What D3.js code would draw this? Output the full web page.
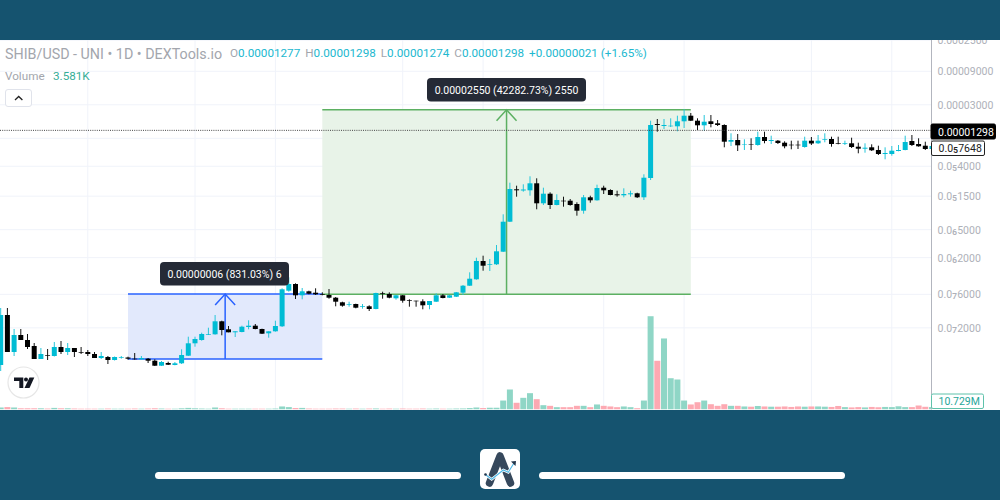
<!DOCTYPE html>
<html lang='en'>
<head>
<meta charset='utf-8'>
<script src='https://d3js.org/d3.v7.min.js'></script>
<style>
	body { margin: 0; background: #fff; }
	svg { display: block; font-family: Roboto, "Open Sans", sans-serif; }
</style>
</head>
<body>
<svg id='chart' width='1000' height='500'></svg>
<script>
// candle values are log price steps above 1e-8 (one step = e^(1/30.5))
var opens = [-16,34,-3,14,9,3,-10,-6,-7,2,-3,1,-3,-3,-5,-9,-8,-11,-8.7,-8.5,-9.7,-10.3,-9.7,-11.7,-16.7,-14,-16,-14.3,-6.7,5.7,9,14.3,14.7,27.7,19.7,16.7,17,22,23.3,20,15.7,17.7,22.7,58.3,65,53.7,57.7,56.3,54.7,54,51.3,46.7,44.3,45,42.3,42.7,40,55.7,55,50.7,53.7,49,48.3,47.7,44,47.3,53.7,51.3,52.3,56.3,63.3,69.7,88,84,84.7,97.3,127.3,159.7,158.5,158.7,165.7,145.7,155.3,144,148.3,148.3,145,138.3,151.7,148.7,161.3,159,154.7,153.7,154.7,155.7,151.7,171,225,223,222.7,222.7,227.7,233.3,228.3,223.7,227.7,225.7,224,207.3,209,204,204.5,204,212,208,208.3,206.3,204.3,204.3,202,208.3,205.7,209,210,205.7,205,205.7,202.3,200.3,201.7,199,195,195,198,199,208,205,203.3,200];
var closes = [34,-3,14,9,2,-10,-5,-6.7,2,-3,1,-3,-3.7,-5,-9,-7,-11,-8,-8,-9.7,-10.3,-9,-11.7,-16.7,-13,-15.7,-14.3,-6,5.7,10,15,15,27.7,19,16.7,17.7,22.3,23.3,20,15.3,17.7,23,59.7,65,53.7,57.7,55.3,54.7,54,51.3,47.3,43.3,45,41.3,43,40,56,55,51.3,53.7,48.3,48.3,47.7,43.7,48,53.7,51,53.7,56.7,63.3,70.3,88,83.3,84.7,97.7,127.3,160,158.7,159.5,165.7,145.7,155.3,144,149,147.7,144,138.3,151.7,148.7,161,158.7,154,153.7,155,155.7,151.7,171.3,224,224,224,223.3,227.7,233.3,228.3,223.7,227.3,225,224,207.3,209,203.7,204.5,204,212,208,209,206,202.7,203.7,203.7,208.3,205.5,208.3,209.7,205,205,205.7,202,200.3,201.3,198.7,195,196,198.3,199,207,204,202.7,200,203];
var highs = [41,41,20,20,15,6,1,0,7,8,6,1,2,-1,-3,-3,-7,-7.5,-7,-7.7,-4,-7,-9,-10.3,-12,-12.7,-13,-0.3,12.3,12.3,16.3,21.3,34,28.3,23,17.7,23.3,28.7,25,20.3,17.7,28.3,60.7,71.7,65.7,61,58.3,60.7,56.7,60,52,47.3,47.3,45.3,45,43.7,56.3,57.3,56.7,54,54,49.7,48.3,49.7,48,55.7,55,54,57,64,76.7,91.3,93.3,90,104,134.7,166.3,163.3,164.7,172.7,170.7,161.3,156.7,154.7,152.3,150,146.7,154,153.3,164.3,163.3,159.7,158.3,160.7,158.3,156.3,174.7,228.3,230,230,230.7,233.3,239.7,236,230.7,234,234,229,224.7,215.7,215,209.7,210.7,217.3,217.3,213.3,209,207.7,208.3,208.3,212.3,212,214,215.7,212.3,212.3,208.3,211.3,206.3,205.7,204.7,203.3,201.7,203,204,213.3,214,210.7,207.3,205];
var lows = [-22,-3,-7,9,0,-10,-10,-11,-7.5,-5,-6,-8,-5,-7,-9,-10,-15,-11.5,-9.7,-10.7,-10.7,-10.7,-14,-17,-17,-16,-16.3,-15,-7,2.3,8.3,14,14.3,13.7,16.7,12,16.7,19.7,19.7,15,11.3,17.3,22,57.3,50,49.7,54.7,54,53.7,50.3,42.7,42.3,42.3,40.7,40.3,38,39.7,50.3,50.7,49.3,46.3,42.3,42.3,39.7,39.7,47,50.7,51,52,54,63,69.3,78.3,78,84,97,127,152.3,157.3,153.3,139.7,144,140,143.7,142.3,143.3,133.3,135.3,146.3,148.3,155,153.7,152.3,151.7,152.3,151,149,169,217.3,220,222,217.7,221,228,219,218.3,221.7,223,201.7,203,198,199,199,203.3,205.7,205,205,200.7,199.7,200,201.3,204,205,206.7,202.3,204.7,204,201,195.7,196.3,198,194,189.7,193.3,197.7,198.7,203,202.3,199,199];
// volume in millions
var volumes = [2.5,3,2.5,1.5,1.5,1.5,1.5,1.2,2,1.5,1.5,1.2,1,1,1,1,1.2,1,1,1,1.2,1,1.2,1.5,1.2,1,1,1.5,2,1.5,1.2,1,2.5,1.5,1,1,1,1,1,1,1,1.2,3.8,3,1.8,2,1.2,1,1,1,1.2,1.2,1,1.2,1,1.2,1.3,1,1.2,1,1.2,1,1,1.2,1,1.2,1,1,1.2,1.3,1.8,2.5,1.8,2.2,2.2,11.2,25,8.4,14.6,20.4,12.9,5.4,4.6,2.9,2.9,2.9,4.6,4.6,2.9,6.3,4.6,3.8,2.9,3.8,2.9,1.6,11.2,116.6,60.9,88.8,39.1,37.5,11.2,6.3,9.1,11.2,6.6,4.6,6.6,4.6,4.6,3.8,3.5,4.4,3.8,3.5,3.5,3.8,3.2,3.8,3.5,3.8,3.8,3.5,3.2,4.4,3,2.6,3,2.6,3.2,2.8,3.2,3,4,3,3,5,3.4,3,2.6,2.4];

// the 0.00001000 tick sits behind the price badges, only its grid line shows
var tickValues = [2.5e-4, 9e-5, 3e-5, 1e-5, 4e-6, 1.5e-6, 5e-7, 2e-7, 6e-8, 2e-8];
var tickLabels = ['0.0002500', '0.00009000', '0.00003000', '', '0.0₅4000', '0.0₅1500', '0.0₆5000', '0.0₆2000', '0.0₇6000', '0.0₇2000'];
var gridIndex = [13, 29, 41, 60, 72, 90, 102, 121, 133];

var lastPrice = 1.298e-5;
var blueRange = { from: 19, to: 48, top: 6.07e-8, bottom: 7.2e-9 };
var greenRange = { from: 48, to: 103, top: 2.55e-5, bottom: 6.03e-8 };

var svg = d3.select('#chart');
var plotRight = 931.5, plotTop = 40, plotBottom = 409.5;

function toPrice(s) { return 1e-8 * Math.exp(s / 30.5); }

var x = d3.scaleLinear().domain([0, 139]).range([0.7, 932]);
var y = d3.scaleLog().domain([toPrice(-60), toPrice(309)]).range([409, 40]);
var yVol = d3.scaleLinear().domain([0, 125]).range([plotBottom, plotBottom - 100]);

svg.append('defs').append('clipPath').attr('id', 'plot')
	.append('rect').attr('x', 0).attr('y', plotTop).attr('width', plotRight).attr('height', plotBottom - plotTop);

// grid
var grid = svg.append('g').attr('stroke', '#f0f3fa').attr('stroke-width', 1);
grid.selectAll('.v').data(gridIndex).enter().append('line')
	.attr('x1', d => x(d)).attr('x2', d => x(d)).attr('y1', plotTop).attr('y2', plotBottom);
grid.selectAll('.h').data(tickValues).enter().append('line')
	.attr('x1', 0).attr('x2', plotRight).attr('y1', d => y(d)).attr('y2', d => y(d));

// the two price range tools
function priceRange(r, fill, stroke) {
	var g = svg.append('g');
	var mid = x((r.from + r.to) / 2);
	g.append('rect').attr('x', x(r.from)).attr('y', y(r.top))
		.attr('width', x(r.to) - x(r.from)).attr('height', y(r.bottom) - y(r.top)).attr('fill', fill);
	[r.top, r.bottom].forEach(function(p) {
		g.append('line').attr('x1', x(r.from)).attr('x2', x(r.to)).attr('y1', y(p)).attr('y2', y(p))
			.attr('stroke', stroke).attr('stroke-width', 1.5);
	});
	g.append('line').attr('x1', mid).attr('x2', mid).attr('y1', y(r.bottom)).attr('y2', y(r.top))
		.attr('stroke', stroke).attr('stroke-width', 1.5);
	g.append('path').attr('d', d3.line()([[mid - 10, y(r.top) + 11], [mid, y(r.top)], [mid + 10, y(r.top) + 11]]))
		.attr('fill', 'none').attr('stroke', stroke).attr('stroke-width', 1.5);
}
priceRange(blueRange, '#e2e9fc', '#2962ff');
priceRange(greenRange, '#e8f3e8', '#5cb062');

// volume and candles
var plot = svg.append('g').attr('clip-path', 'url(#plot)');
var bw = 5;

plot.selectAll('.vol').data(volumes).enter().append('rect')
	.attr('x', (d, i) => x(i) - 3)
	.attr('y', d => yVol(d))
	.attr('width', 6)
	.attr('height', d => yVol(0) - yVol(d))
	.attr('fill', (d, i) => closes[i] >= opens[i] ? '#8fd6c6' : '#fda9b2');

var candle = plot.selectAll('.candle').data(opens).enter().append('g');
candle.append('line')
	.attr('x1', (d, i) => x(i)).attr('x2', (d, i) => x(i))
	.attr('y1', (d, i) => y(toPrice(highs[i])))
	.attr('y2', (d, i) => y(toPrice(lows[i])))
	.attr('stroke', (d, i) => closes[i] >= opens[i] ? '#26c6da' : '#111')
	.attr('stroke-width', 1);
candle.append('rect')
	.attr('x', (d, i) => x(i) - bw / 2)
	.attr('y', (d, i) => y(toPrice(Math.max(opens[i], closes[i]))))
	.attr('width', bw)
	.attr('height', (d, i) => Math.abs(y(toPrice(opens[i])) - y(toPrice(closes[i]))))
	.attr('fill', (d, i) => closes[i] >= opens[i] ? '#00bcd4' : '#000');

// last price line
svg.append('line').attr('x1', 0).attr('x2', plotRight).attr('y1', y(lastPrice)).attr('y2', y(lastPrice))
	.attr('stroke', '#444').attr('stroke-width', 1).attr('stroke-dasharray', '1 1.2');

// subscript digits are tiny in the font, so they get their own bigger tspan
function priceText(sel, label) {
	label.split(/([₅₆₇])/).forEach(function(part, i) {
		var t = sel.append('tspan').text(part);
		if (i == 1) t.style('font-size', '14px').attr('dy', -2);
		if (i == 2) t.attr('dy', 2);
	});
}

// price axis
var axis = svg.append('g').attr('transform', 'translate(' + plotRight + ',0)')
	.call(d3.axisRight(y).tickValues(tickValues).tickSize(0).tickPadding(6).tickFormat(''));
axis.select('.domain').remove();
axis.selectAll('text').attr('fill', '#aeb1b9').style('font-size', '10.5px').style('font-family', 'Roboto')
	.each(function(d, i) { priceText(d3.select(this), tickLabels[i]); });
svg.append('line').attr('x1', plotRight).attr('x2', plotRight).attr('y1', plotTop).attr('y2', plotBottom)
	.attr('stroke', '#b2b5be');

function badge(bx, by, w, h, fill, stroke, color, label) {
	svg.append('rect').attr('x', bx).attr('y', by).attr('width', w).attr('height', h).attr('rx', 1.5)
		.attr('fill', fill).attr('stroke', stroke);
	var t = svg.append('text').attr('x', bx + 7).attr('y', by + h / 2 + 4).attr('fill', color)
		.style('font-size', '10.5px');
	priceText(t, label);
}
badge(931, 124, 64.5, 15, '#000', '#000', '#fff', '0.00001298');
badge(931.5, 141, 53, 14.5, '#fff', '#222', '#222', '0.0₅7648');
badge(931.5, 394, 52, 14.5, '#fff', '#5fc2ab', '#26a69a', '10.729M');

// tooltips
function tooltip(cx, by, w, label) {
	svg.append('rect').attr('x', cx - w / 2).attr('y', by).attr('width', w).attr('height', 23.5).attr('rx', 4)
		.attr('fill', '#252a36');
	svg.append('text').attr('x', cx).attr('y', by + 15.5).attr('text-anchor', 'middle').attr('fill', '#fff')
		.style('font-size', '10.5px').text(label);
}
tooltip(224.5, 262, 129, '0.00000006 (831.03%) 6');
tooltip(506.5, 78, 159, '0.00002550 (42282.73%) 2550');

// legend
svg.append('text').attr('x', 5).attr('y', 59).attr('fill', '#a3a6ad').style('font-size', '14.3px')
	.text('SHIB/USD - UNI • 1D • DEXTools.io');
var ohlc = svg.append('text').attr('x', 230).attr('y', 57).style('font-size', '11.7px');
[['O', '0.00001277'], ['H', '0.00001298'], ['L', '0.00001274'], ['C', '0.00001298']].forEach(function(d, i) {
	ohlc.append('tspan').attr('dx', i ? 5 : 0).attr('fill', '#a3a6ad').text(d[0]);
	ohlc.append('tspan').attr('fill', '#22b8cf').text(d[1]);
});
ohlc.append('tspan').attr('dx', 5).attr('fill', '#22b8cf').text('+0.00000021 (+1.65%)');
svg.append('text').attr('x', 5).attr('y', 80).attr('fill', '#a3a6ad').style('font-size', '11.7px').text('Volume');
svg.append('text').attr('x', 53).attr('y', 80).attr('fill', '#35ad97').style('font-size', '11.7px').text('3.581K');

svg.append('rect').attr('x', 5.5).attr('y', 89.5).attr('width', 26).attr('height', 17).attr('rx', 2.5)
	.attr('fill', '#fff').attr('stroke', '#e0e3eb');
svg.append('path').attr('d', 'M15 100 L18.7 96.5 L22.4 100').attr('fill', 'none').attr('stroke', '#222').attr('stroke-width', 1.3);

// tradingview mark
var tv = svg.append('g');
tv.append('circle').attr('cx', 23.5).attr('cy', 382.5).attr('r', 15.5).attr('fill', '#fff').attr('stroke', '#e6e6e6').attr('stroke-width', 1.2);
tv.append('path').attr('d', 'M14 377.5H23.3V388H19.3V381H14Z').attr('fill', '#131722');
tv.append('circle').attr('cx', 26).attr('cy', 379.5).attr('r', 2).attr('fill', '#131722');
tv.append('path').attr('d', 'M29.5 377.5H34.3L29.5 388H24.5Z').attr('fill', '#131722');

// frame bands, drawn last so they cut off the top axis label
var band = '#15536f';
svg.append('rect').attr('width', 1000).attr('height', 40).attr('fill', band);
svg.append('rect').attr('y', 410).attr('width', 1000).attr('height', 90).attr('fill', band);
svg.append('rect').attr('x', 155).attr('y', 472).attr('width', 306).attr('height', 7).attr('rx', 3.5).attr('fill', '#fff');
svg.append('rect').attr('x', 539).attr('y', 472).attr('width', 306).attr('height', 7).attr('rx', 3.5).attr('fill', '#fff');

var logo = svg.append('g');
logo.append('rect').attr('x', 480).attr('y', 449).attr('width', 40).attr('height', 40).attr('rx', 5).attr('fill', '#fff');
logo.append('path').attr('d', 'M489.5 483 L500 456 L510.5 483').attr('fill', 'none')
	.attr('stroke', '#36485c').attr('stroke-width', 7.5).attr('stroke-linecap', 'round').attr('stroke-linejoin', 'round');
logo.append('path').attr('d', 'M485 474.3 L491.7 479.3 L503.3 470 L508.3 472.3 L514 463').attr('fill', 'none')
	.attr('stroke', '#fff').attr('stroke-width', 2.6);
logo.append('path').attr('d', 'M485 474.3 L491.7 479.3 L503.3 470 L508.3 472.3 L514 463').attr('fill', 'none')
	.attr('stroke', '#4db8e8').attr('stroke-width', 1.1);
logo.append('path').attr('d', 'M511 461.5 L516 461 L515.5 466Z').attr('fill', '#22344a');
logo.append('circle').attr('cx', 485.5).attr('cy', 474.5).attr('r', 1.3).attr('fill', '#22344a');
</script>
</body>
</html>
